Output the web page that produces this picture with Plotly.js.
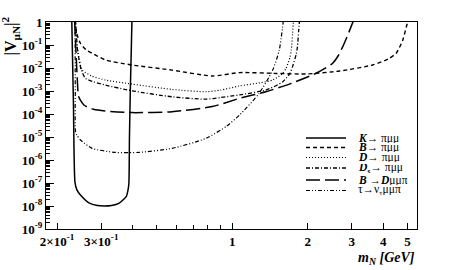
<!DOCTYPE html>
<html>
<head>
<meta charset="utf-8">
<script src="https://cdn.plot.ly/plotly-3.0.1.min.js"></script>
<style>html,body{margin:0;padding:0;background:#fff}#chart{width:463px;height:270px}</style>
</head>
<body>
<div id="chart"></div>
<script>
// ---- data ----
const seriesNames = [
  "<b><i>K</i></b>\u2192 \u03c0\u03bc\u03bc",
  "<b><i>B</i></b>\u2192 \u03c0\u03bc\u03bc",
  "<b><i>D</i></b>\u2192 \u03c0\u03bc\u03bc",
  "<b><i>D<sub>s</sub></i></b>\u2192 \u03c0\u03bc\u03bc",
  "<b><i>B</i></b> \u2192<b><i>D</i></b>\u03bc\u03bc\u03c0",
  "\u03c4\u2192\u03bd<sub>\u03c4</sub>\u03bc\u03bc\u03c0"
];

const mK = [0.229, 0.2325, 0.2358, 0.240, 0.248, 0.268, 0.290, 0.3077, 0.330, 0.353, 0.370, 0.378, 0.384, 0.387, 0.389, 0.392, 0.396, 0.398];
const vK = [1.2, 3e-4, 1.1e-7, 5e-8, 3e-8, 1.38e-8, 1.05e-8, 1.0e-8, 1.05e-8, 1.3e-8, 2.0e-8, 2.6e-8, 5e-8, 1e-7, 1e-5, 1e-3, 1e-1, 1.2];

const mB = [0.236, 0.240, 0.248, 0.262, 0.276, 0.312, 0.398, 0.575, 0.832, 1.07, 1.5, 1.97, 2.68, 3.63, 4.2, 4.51, 4.79, 5.0, 5.05];
const vB = [1.2, 0.3, 0.118, 0.06, 0.044, 0.0224, 0.0135, 0.0081, 0.0045, 0.0063, 0.0058, 0.0055, 0.0074, 0.0135, 0.025, 0.044, 0.166, 0.93, 1.2];

const mD = [0.236, 0.240, 0.245, 0.252, 0.275, 0.312, 0.398, 0.575, 0.785, 0.90, 1.07, 1.30, 1.45, 1.58, 1.64, 1.70, 1.72, 1.74, 1.755];
const vD = [1.2, 0.1, 0.025, 0.0081, 0.0045, 0.003, 0.002, 0.00117, 0.00093, 0.0011, 0.00166, 0.0023, 0.003, 0.0055, 0.0098, 0.03, 0.06, 0.3, 1.2];

const mDs = [0.237, 0.242, 0.250, 0.260, 0.280, 0.312, 0.398, 0.575, 0.785, 0.90, 1.07, 1.36, 1.59, 1.70, 1.74, 1.80, 1.82, 1.84, 1.855];
const vDs = [1.2, 0.05, 0.008, 0.0035, 0.0025, 0.0018, 0.00102, 0.00056, 0.00044, 0.00052, 0.00068, 0.0011, 0.0025, 0.006, 0.0115, 0.04, 0.085, 0.4, 1.2];

const mBD = [0.235, 0.238, 0.241, 0.244, 0.256, 0.280, 0.312, 0.398, 0.575, 0.832, 1.07, 1.36, 1.69, 2.16, 2.51, 2.65, 2.76, 2.90, 3.05];
const vBD = [1.2, 0.05, 0.003, 0.00056, 0.000245, 0.00016, 0.000135, 0.000115, 0.000126, 0.00021, 0.00048, 0.00093, 0.002, 0.0059, 0.0158, 0.035, 0.085, 0.3, 1.2];

const mTau = [0.236, 0.2365, 0.237, 0.240, 0.248, 0.276, 0.342, 0.424, 0.575, 0.785, 0.95, 1.07, 1.28, 1.45, 1.54, 1.60];
const vTau = [1.2, 1e-3, 1.7e-5, 1.2e-5, 7.4e-6, 3.2e-6, 2.14e-6, 2.14e-6, 3.2e-6, 8.7e-6, 3e-5, 9.1e-5, 7.9e-4, 8.1e-3, 0.06, 1.2];

const yTickVals = [1e-9, 1e-8, 1e-7, 1e-6, 1e-5, 1e-4, 1e-3, 1e-2, 1e-1, 1];
const yTickText = ["10<sup>-9</sup>", "10<sup>-8</sup>", "10<sup>-7</sup>", "10<sup>-6</sup>", "10<sup>-5</sup>", "10<sup>-4</sup>", "10<sup>-3</sup>", "10<sup>-2</sup>", "10<sup>-1</sup>", "1"];
const xTickVals = [0.2, 0.3, 1, 2, 3, 4, 5];
const xTickText = ["2\u00d710<sup>-1</sup>", "3\u00d710<sup>-1</sup>", "1", "2", "3", "4", "5"];
const xMinorVals = [0.4, 0.5, 0.6, 0.7, 0.8, 0.9];

// ---- styles ----
const dashes = ["solid", "4px,3px", "1px,2px", "4px,2px,1px,2px", "14px,5px", "4px,2px,1px,2px,1px,2px"];
const widths = [1.5, 1.4, 1.2, 1.3, 1.5, 1.2];
const xs = [mK, mB, mD, mDs, mBD, mTau];
const ys = [vK, vB, vD, vDs, vBD, vTau];

const traces = xs.map((x, i) => ({
  x: x, y: ys[i], type: 'scatter', mode: 'lines', name: seriesNames[i],
  line: {color: 'black', width: widths[i], dash: dashes[i], shape: 'spline', smoothing: 0.6},
  showlegend: false, hoverinfo: 'skip'
}));

const serif = "Liberation Serif, Times New Roman, serif";
const L = 46, R = 46, T = 22, B = 41, W = 463, H = 270;
const pw = W - L - R, ph = H - T - B;
const px = v => (v - L) / pw;
const py = v => (H - B - v) / ph;

const legRows = [138, 147.5, 157.5, 168, 180, 190.5];
const shapes = [], annotations = [];
legRows.forEach((yy, i) => {
  shapes.push({type: 'line', xref: 'paper', yref: 'paper', x0: px(306), x1: px(346), y0: py(yy), y1: py(yy),
    line: {color: 'black', width: widths[i], dash: dashes[i]}});
  annotations.push({xref: 'paper', yref: 'paper', x: px(356), y: py(yy), xanchor: 'left', yanchor: 'middle',
    text: seriesNames[i], showarrow: false, height: 9, font: {family: serif, size: 11.5, color: 'black'}});
});
annotations.push({xref: 'paper', yref: 'paper', x: px(10), y: py(15), xanchor: 'center', yanchor: 'top', textangle: -90,
  text: "<b>|V<sub>\u03bcN</sub>|<sup>2</sup></b>", showarrow: false, font: {family: serif, size: 16, color: 'black'}});
annotations.push({xref: 'paper', yref: 'paper', x: px(417), y: py(258), xanchor: 'right', yanchor: 'middle',
  text: "<b><i>m<sub>N</sub> [GeV]</i></b>", showarrow: false, font: {family: serif, size: 14, color: 'black'}});

const layout = {
  width: W, height: H,
  margin: {l: L, r: R, t: T, b: B, pad: 0},
  paper_bgcolor: 'white', plot_bgcolor: 'white',
  showlegend: false,
  xaxis: {
    type: 'log', range: [-0.743, 0.737],
    tickmode: 'array', tickvals: xTickVals, ticktext: xTickText,
    ticks: 'inside', ticklen: 6, tickcolor: 'black', tickwidth: 1,
    minor: {tickmode: 'array', tickvals: xMinorVals, ticks: 'inside', ticklen: 4, tickcolor: 'black', showgrid: false},
    showline: true, linecolor: 'black', linewidth: 1, mirror: true,
    showgrid: false, zeroline: false,
    tickfont: {family: serif, size: 13, color: 'black', weight: 'bold'}
  },
  yaxis: {
    type: 'log', range: [-9, 0],
    tickmode: 'array', tickvals: yTickVals, ticktext: yTickText,
    ticks: 'inside', ticklen: 8, tickcolor: 'black', tickwidth: 1,
    minor: {ticks: 'inside', ticklen: 4, tickcolor: 'black', dtick: 'D1', showgrid: false},
    showline: true, linecolor: 'black', linewidth: 1, mirror: true,
    showgrid: false, zeroline: false,
    tickfont: {family: serif, size: 13, color: 'black', weight: 'bold'}
  },
  shapes: shapes,
  annotations: annotations
};

Plotly.newPlot('chart', traces, layout, {staticPlot: true, displayModeBar: false});
</script>
</body>
</html>
